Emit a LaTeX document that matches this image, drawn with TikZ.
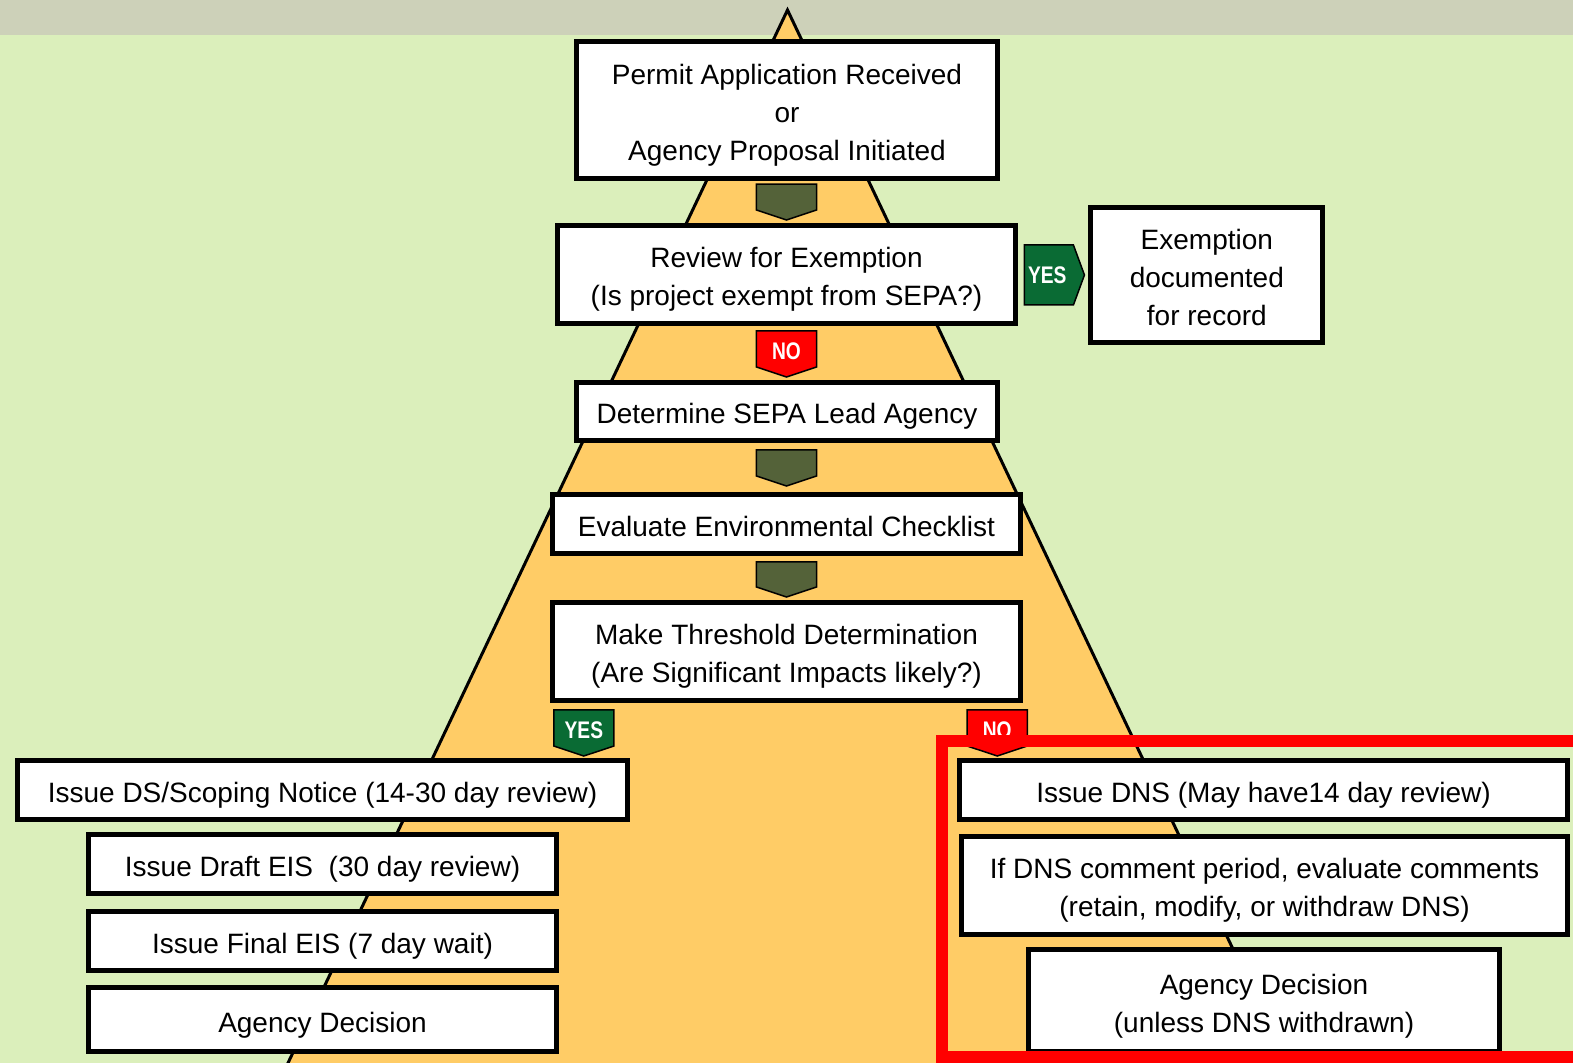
\documentclass[tikz,border=0pt]{standalone}
\usepackage{fontspec}
\setmainfont{Liberation Sans}
\newfontfamily\tagfont[FakeStretch=0.8]{Liberation Sans}
\definecolor{meadow}{HTML}{DBEFBB}
\definecolor{band}{HTML}{CDD1B9}
\definecolor{sand}{HTML}{FFCC66}
\definecolor{olive}{HTML}{546239}
\definecolor{yesgreen}{HTML}{0A6B34}
\definecolor{nored}{HTML}{FF0000}
% fixed first-line height and last-line depth, so every box sets its text alike
\newcommand\padtop{\rule{0pt}{31pt}}
\newcommand\padbot{\rule[-6.5pt]{0pt}{0pt}}
\tikzset{
  stepbox/.style={draw=black, line width=5pt, fill=white, align=center,
    inner sep=0pt, font=\fontsize{28}{38}\selectfont},
  tagline/.style={draw=black, line width=1.5pt, line join=miter},
  taglabel/.style={text=white, inner sep=0pt,
    font=\tagfont\bfseries\fontsize{24}{24}\selectfont}
}
% pentagon marker pointing down: name, centre x, top y, tip y, fill, label
\newcommand\downtag[6]{%
  \draw[tagline, fill=#5] (#2-30,#3) -- (#2+30,#3) -- (#2+30,#4-10)
    -- (#2,#4) -- (#2-30,#4-10) -- cycle;
  \node[taglabel] (#1) at (#2,{(#3+#4-10)/2+2}) {#6};}
\begin{document}
\begin{tikzpicture}[x=1.0032pt,y=-1pt]
\useasboundingbox (0,0) rectangle (1568,1063);
\clip (0,0) rectangle (1568,1063);
% background
\fill[meadow] (0,0) rectangle (1568,1063);
\fill[band] (0,0) rectangle (1568,35);
% process pyramid
\draw[line width=3pt, fill=sand] (785,10) -- (1290,1078) -- (280,1078) -- cycle;

% main column
\node[stepbox, minimum width=421, minimum height=137] (permit) at (784.5,110)
  {\padtop Permit Application Received\\or\\Agency Proposal Initiated\padbot};
\node[stepbox, minimum width=458.5, minimum height=98] (review) at (784,274.5)
  {\padtop Review for Exemption\\(Is project exempt from SEPA?)\padbot};
\node[stepbox, minimum width=232, minimum height=135] (exempt) at (1203,275)
  {\padtop Exemption\\documented\\for record\padbot};
\node[stepbox, minimum width=421, minimum height=58] (lead) at (784.5,411.5)
  {\padtop Determine SEPA Lead Agency\padbot};
\node[stepbox, minimum width=468.5, minimum height=59] (checklist) at (784,524)
  {\padtop Evaluate Environmental Checklist\padbot};
\node[stepbox, minimum width=468.5, minimum height=98] (threshold) at (784,651.5)
  {\padtop Make Threshold Determination\\(Are Significant Impacts likely?)\padbot};

% significant impacts branch
\node[stepbox, minimum width=610, minimum height=59] (ds) at (321.5,790)
  {\padtop Issue DS/Scoping Notice (14-30 day review)\padbot};
\node[stepbox, minimum width=467.5, minimum height=59] (draft) at (321.5,864)
  {\padtop Issue Draft EIS\ \ (30 day review)\padbot};
\node[stepbox, minimum width=467.5, minimum height=59] (final) at (321.5,941)
  {\padtop Issue Final EIS (7 day wait)\padbot};
\node[stepbox, minimum width=467.5, minimum height=64] (decleft) at (321.5,1020)
  {\padtop Agency Decision\padbot};

% non-significance branch
\node[stepbox, minimum width=608, minimum height=59] (dns) at (1259.5,790)
  {\padtop Issue DNS (May have14 day review)\padbot};
\node[stepbox, minimum width=606, minimum height=98] (comments) at (1260.5,885.5)
  {\padtop If DNS comment period, evaluate comments\\(retain, modify, or withdraw DNS)\padbot};
\node[stepbox, minimum width=470.5, minimum height=102] (decright) at (1260,1001)
  {\padtop Agency Decision\\(unless DNS withdrawn)\padbot};

% step markers
\downtag{t1}{784}{184}{220}{olive}{}
\downtag{t2}{784}{331}{377}{nored}{NO}
\downtag{t3}{784}{450}{486}{olive}{}
\downtag{t4}{784}{562}{597}{olive}{}
\downtag{t5}{582}{710}{756}{yesgreen}{YES}
\downtag{t6}{994}{710}{756}{nored}{NO}
% exemption marker pointing right
\draw[tagline, fill=yesgreen] (1021,245) -- (1070,245) -- (1081,275)
  -- (1070,305) -- (1021,305) -- cycle;
\node[taglabel] (tyes) at (1044,275) {YES};

% highlight frame round the DNS branch
\draw[nored, line width=12pt] (939,741) rectangle (1620,1057);
\end{tikzpicture}
\end{document}
